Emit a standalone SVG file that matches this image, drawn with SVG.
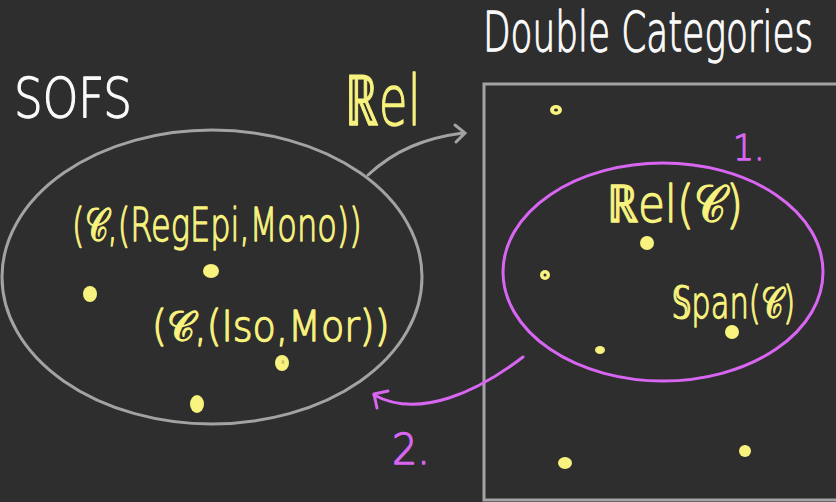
<svg xmlns="http://www.w3.org/2000/svg" width="836" height="502" viewBox="0 0 836 502">
<style>
.bg{fill:#2e2e2e}
text{font-family:"DejaVu Sans","Liberation Sans",sans-serif;font-weight:200;stroke-width:1.3;stroke-linejoin:round}
.w{fill:#fafafa;stroke:#fafafa}
.y{fill:#f8f27e;stroke:#f8f27e}
.m{fill:#d866f2;stroke:#d866f2}
.dot{fill:#f8f27e}
.hole{fill:#c9c46a}
.grey{fill:none;stroke:#a3a3a3;stroke-width:3;stroke-linecap:round}
.mag{fill:none;stroke:#d866f2;stroke-width:3;stroke-linecap:round;stroke-linejoin:round}
</style>
<rect class="bg" x="0" y="0" width="836" height="502"/>
<g id="sofs">
<text class="w" transform="translate(14,117) scale(0.8,1)" font-size="56" textLength="147.5" lengthAdjust="spacingAndGlyphs">SOFS</text>
<ellipse class="grey" cx="212" cy="277" rx="210" ry="147"/>
<text class="y" transform="translate(72,241) scale(0.69,1)" font-size="47" textLength="420" lengthAdjust="spacingAndGlyphs">(𝒞,(RegEpi,Mono))</text>
<text class="y" transform="translate(152,341) scale(0.9,1)" font-size="42" textLength="264" lengthAdjust="spacingAndGlyphs">(𝒞,(Iso,Mor))</text>
<ellipse class="dot" cx="211" cy="271" rx="8" ry="7"/>
<ellipse class="dot" cx="90" cy="294" rx="7" ry="8"/>
<ellipse class="dot" cx="282" cy="363" rx="7" ry="8"/>
<ellipse class="hole" cx="283" cy="362" rx="1.5" ry="2"/>
<ellipse class="dot" cx="197" cy="404" rx="7" ry="9"/>
</g>
<g id="double-categories">
<text class="w" transform="translate(483,51) scale(0.64,1)" font-size="56" textLength="516" lengthAdjust="spacingAndGlyphs">Double Categories</text>
<rect x="484" y="84" width="380" height="416" fill="none" stroke="#a3a3a3" stroke-width="3"/>
<ellipse class="dot" cx="556" cy="110" rx="6" ry="5"/>
<ellipse class="bg" cx="556" cy="110" rx="2" ry="1.5"/>
<ellipse class="dot" cx="647" cy="243" rx="7" ry="7"/>
<ellipse class="dot" cx="545" cy="275" rx="5" ry="5"/>
<ellipse class="bg" cx="545" cy="275" rx="1.5" ry="1.5"/>
<ellipse class="dot" cx="600" cy="350" rx="5" ry="4"/>
<ellipse class="dot" cx="732" cy="332" rx="7" ry="7"/>
<ellipse class="dot" cx="565" cy="463" rx="7" ry="6"/>
<ellipse class="dot" cx="745" cy="451" rx="6" ry="6"/>
</g>
<g id="rel-span">
<ellipse class="mag" cx="663" cy="272" rx="160" ry="109"/>
<text class="y" transform="translate(607,222) scale(0.85,1)" font-size="52" textLength="160" lengthAdjust="spacingAndGlyphs">ℝel(𝒞)</text>
<text class="y" transform="translate(672,318) scale(0.7,1)" font-size="44" textLength="176" lengthAdjust="spacingAndGlyphs">𝕊pan(𝒞)</text>
<text class="m" transform="translate(733,160) scale(0.9,1)" font-size="36" textLength="35" lengthAdjust="spacingAndGlyphs">1.</text>
</g>
<g id="connectors">
<path class="grey" d="M368,175 C395,150 425,138 463,133"/>
<path class="grey" d="M455,125 L465,133 L456,142"/>
<text class="y" transform="translate(345,125) scale(0.67,1)" font-size="70" textLength="113" lengthAdjust="spacingAndGlyphs">ℝel</text>
<path class="mag" d="M523,357 C480,390 420,420 374,395"/>
<path class="mag" d="M388,391 L374,394 L377,408"/>
<text class="m" transform="translate(392,464) scale(0.95,1)" font-size="42" textLength="40" lengthAdjust="spacingAndGlyphs">2.</text>
</g>
</svg>
